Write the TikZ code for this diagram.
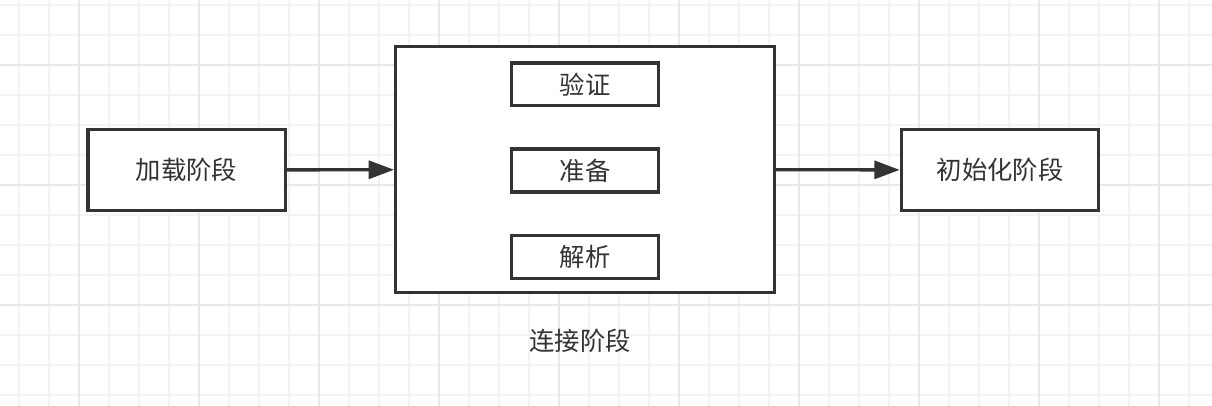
\documentclass[tikz,border=0pt]{standalone}
\usepackage{fontspec}
\newfontfamily\cjk{Noto Sans CJK SC}
\usepackage{tikz}
\usetikzlibrary{arrows.meta,positioning}
\usepackage{xcolor}
\definecolor{linedark}{HTML}{333333}
\definecolor{gridminor}{HTML}{F3F3F3}
\definecolor{gridmajor}{HTML}{E8E8E8}
\tikzset{
    stage/.style={draw=linedark, line width=2.5pt, fill=white,
                  minimum width=148pt, minimum height=61pt,
                  font=\cjk\fontsize{19}{22}\selectfont, text=linedark},
    substep/.style={draw=linedark, line width=2.5pt, fill=white,
                    minimum width=110pt, minimum height=32pt,
                    font=\cjk\fontsize{19}{22}\selectfont, text=linedark},
    bigbox/.style={draw=linedark, line width=2.5pt, fill=white,
                   minimum width=284pt, minimum height=184pt},
}

\begin{document}
\begin{tikzpicture}[
    x=0.75pt, y=-0.75pt,
    arr/.style={-{Triangle[length=19pt, width=13.5pt]}, line width=2.5pt, linedark}
]
    % background grid
    \useasboundingbox (0,0) rectangle (1212,406);
    \fill[white] (0,0) rectangle (1212,406);
    \foreach \gx in {19,49,...,1211}
        \draw[gridminor, line width=1.5pt] (\gx,0) -- (\gx,406);
    \foreach \gy in {5,35,...,405}
        \draw[gridminor, line width=1.5pt] (0,\gy) -- (1212,\gy);
    \foreach \gx in {79,199,...,1211}
        \draw[gridmajor, line width=1.5pt] (\gx,0) -- (\gx,406);
    \foreach \gy in {65,185,305}
        \draw[gridmajor, line width=1.5pt] (0,\gy) -- (1212,\gy);

    \node[stage] (load) at (186.5,170) {加载阶段};
    \node[bigbox] (link) at (585,169.5) {};
    \node[substep] (verify) at (585,84.5) {验证};
    \node[substep] (prepare) at (585,170.5) {准备};
    \node[substep] (resolve) at (585,257) {解析};
    \node[stage] (init) at (1000,170) {初始化阶段};
    \node[font=\cjk\fontsize{19}{22}\selectfont, text=linedark] (linklabel) at (580,341) {连接阶段};

    \draw[arr] (load) -- (link);
    \draw[arr] (link) -- (init);
\end{tikzpicture}
\end{document}
